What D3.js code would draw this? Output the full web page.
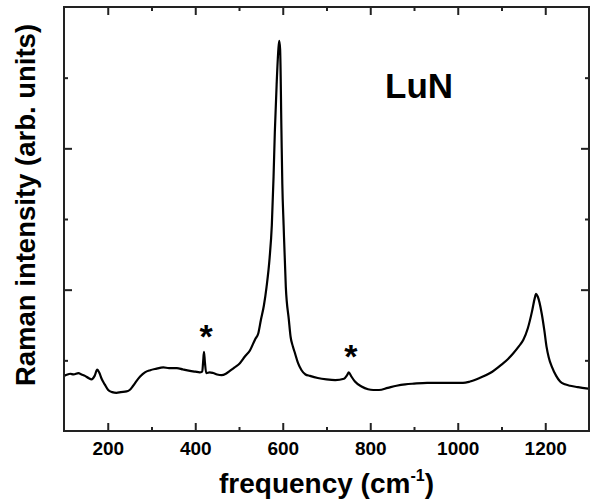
<!DOCTYPE html>
<html lang="en">
<head>
  <meta charset="UTF-8">
  <title>LuN Raman</title>
  <script src="https://d3js.org/d3.v7.min.js"></script>
  <style>
    body { margin: 0; background: #fff; }
    svg text { font-family: "Liberation Sans", Arial, sans-serif; font-weight: bold; }
  </style>
</head>
<body>
  <div id="chart"></div>
  <script>
  // spectrum (frequency in cm-1, intensity in arb. units)
  const freq = [100, 108, 114, 122, 133, 140, 148, 156, 163, 170, 176, 181, 186, 193, 201, 210, 220, 230, 243, 250,
    258, 266, 274, 285, 297, 310, 327, 340, 358, 372, 388, 400, 410, 416, 418, 420, 422, 425, 433, 441,
    450, 460, 470, 479, 490, 502, 513, 525, 537, 544, 550, 557, 563, 570, 575, 579, 582, 586, 590, 592,
    594, 597, 599, 602, 607, 614, 618, 623, 628, 635, 643, 652, 662, 680, 700, 720, 740, 747, 751, 756,
    765, 780, 795, 807, 820, 840, 860, 880, 900, 930, 960, 990, 1012, 1028, 1050, 1074, 1100, 1115, 1127, 1140,
    1150, 1160, 1170, 1176, 1179, 1183, 1192, 1198, 1203, 1208, 1215, 1225, 1234, 1245, 1257, 1275, 1298]
  const intensity = [0.78, 0.80, 0.81, 0.80, 0.82, 0.80, 0.78, 0.75, 0.73, 0.78, 0.87, 0.82, 0.74, 0.66, 0.58, 0.55, 0.54, 0.55, 0.56, 0.58,
    0.64, 0.71, 0.77, 0.83, 0.86, 0.88, 0.90, 0.89, 0.89, 0.87, 0.85, 0.84, 0.83, 0.84, 0.98, 1.12, 0.98, 0.82, 0.83, 0.82,
    0.80, 0.79, 0.81, 0.85, 0.90, 0.96, 1.05, 1.14, 1.30, 1.38, 1.57, 1.78, 2.04, 2.45, 2.91, 3.60, 4.25, 4.90, 5.40, 5.52,
    5.40, 4.25, 3.50, 2.91, 2.04, 1.57, 1.33, 1.20, 1.10, 0.96, 0.86, 0.80, 0.78, 0.75, 0.73, 0.72, 0.74, 0.79, 0.83, 0.78,
    0.70, 0.63, 0.59, 0.58, 0.58, 0.61, 0.64, 0.66, 0.67, 0.68, 0.68, 0.68, 0.68, 0.70, 0.75, 0.82, 0.94, 1.02, 1.10, 1.20,
    1.29, 1.45, 1.70, 1.88, 1.94, 1.90, 1.66, 1.42, 1.19, 1.04, 0.91, 0.78, 0.70, 0.66, 0.64, 0.62, 0.60]

  // spurious lines marked with *
  const markedFreq = [420, 751]
  const markedPeak = [1.12, 0.83]

  const xMajor = [200, 400, 600, 800, 1000, 1200]
  const xMinor = [300, 500, 700, 900, 1100]
  const yMajor = [2, 4]
  const yMinor = [1, 3, 5]

  const W = 593, H = 502
  const m = { left: 64, right: 4, top: 7, bottom: 71 }

  const svg = d3.select('#chart').append('svg')
    .attr('width', W)
    .attr('height', H)

  const x = d3.scaleLinear().domain([100, 1300]).range([m.left, W - m.right])
  const y = d3.scaleLinear().domain([0, 6]).range([H - m.bottom, m.top])

  const pts = freq.map((f, i) => [f, intensity[i]])

  svg.append('path')
    .datum(pts)
    .attr('fill', 'none')
    .attr('stroke', '#000')
    .attr('stroke-width', 2.2)
    .attr('stroke-linejoin', 'round')
    .attr('d', d3.line()
      .x(d => x(d[0]))
      .y(d => y(d[1]))
      .curve(d3.curveMonotoneX))

  // axes, ticks pointing in
  const tickStyle = g => {
    g.select('.domain').remove()
    g.selectAll('line').attr('stroke', '#222').attr('stroke-width', 2)
  }
  svg.append('g').attr('transform', `translate(0,${y(0)})`)
    .call(d3.axisBottom(x).tickValues(xMajor).tickSize(-8).tickPadding(11).tickFormat(d3.format('d')))
    .call(tickStyle)
    .call(g => g.selectAll('text').attr('font-size', 19).attr('fill', '#000'))
  svg.append('g').attr('transform', `translate(0,${y(0)})`)
    .call(d3.axisBottom(x).tickValues(xMinor).tickSize(-4).tickFormat(''))
    .call(tickStyle)
  svg.append('g').attr('transform', `translate(0,${y(6)})`)
    .call(d3.axisTop(x).tickValues(xMajor).tickSize(-8).tickFormat(''))
    .call(tickStyle)
  svg.append('g').attr('transform', `translate(0,${y(6)})`)
    .call(d3.axisTop(x).tickValues(xMinor).tickSize(-4).tickFormat(''))
    .call(tickStyle)
  svg.append('g').attr('transform', `translate(${x(100)},0)`)
    .call(d3.axisLeft(y).tickValues(yMajor).tickSize(-8).tickFormat(''))
    .call(tickStyle)
  svg.append('g').attr('transform', `translate(${x(100)},0)`)
    .call(d3.axisLeft(y).tickValues(yMinor).tickSize(-4).tickFormat(''))
    .call(tickStyle)
  svg.append('g').attr('transform', `translate(${x(1300)},0)`)
    .call(d3.axisRight(y).tickValues(yMajor).tickSize(-8).tickFormat(''))
    .call(tickStyle)
  svg.append('g').attr('transform', `translate(${x(1300)},0)`)
    .call(d3.axisRight(y).tickValues(yMinor).tickSize(-4).tickFormat(''))
    .call(tickStyle)

  // frame
  svg.append('rect')
    .attr('x', x(100)).attr('y', y(6))
    .attr('width', x(1300) - x(100)).attr('height', y(0) - y(6))
    .attr('fill', 'none')
    .attr('stroke', '#222')
    .attr('stroke-width', 2)

  // asterisks
  svg.selectAll('text.star')
    .data(markedFreq)
    .enter()
    .append('text')
    .attr('class', 'star')
    .attr('x', d => x(d) + 2)
    .attr('y', (d, i) => y(markedPeak[i]) - 4)
    .attr('text-anchor', 'middle')
    .attr('font-size', 34)
    .text('*')

  svg.append('text')
    .attr('x', 385).attr('y', 98)
    .attr('font-size', 35)
    .text('LuN')

  const xt = svg.append('text')
    .attr('x', (x(100) + x(1300)) / 2)
    .attr('y', 493)
    .attr('text-anchor', 'middle')
    .attr('font-size', 28)
  xt.append('tspan').text('frequency (cm')
  xt.append('tspan').attr('font-size', 16).attr('dy', -12).text('-1')
  xt.append('tspan').attr('dy', 12).text(')')

  svg.append('text')
    .attr('transform', 'translate(35,205) rotate(-90)')
    .attr('text-anchor', 'middle')
    .attr('font-size', 27.5)
    .text('Raman intensity (arb. units)')
  </script>
</body>
</html>
